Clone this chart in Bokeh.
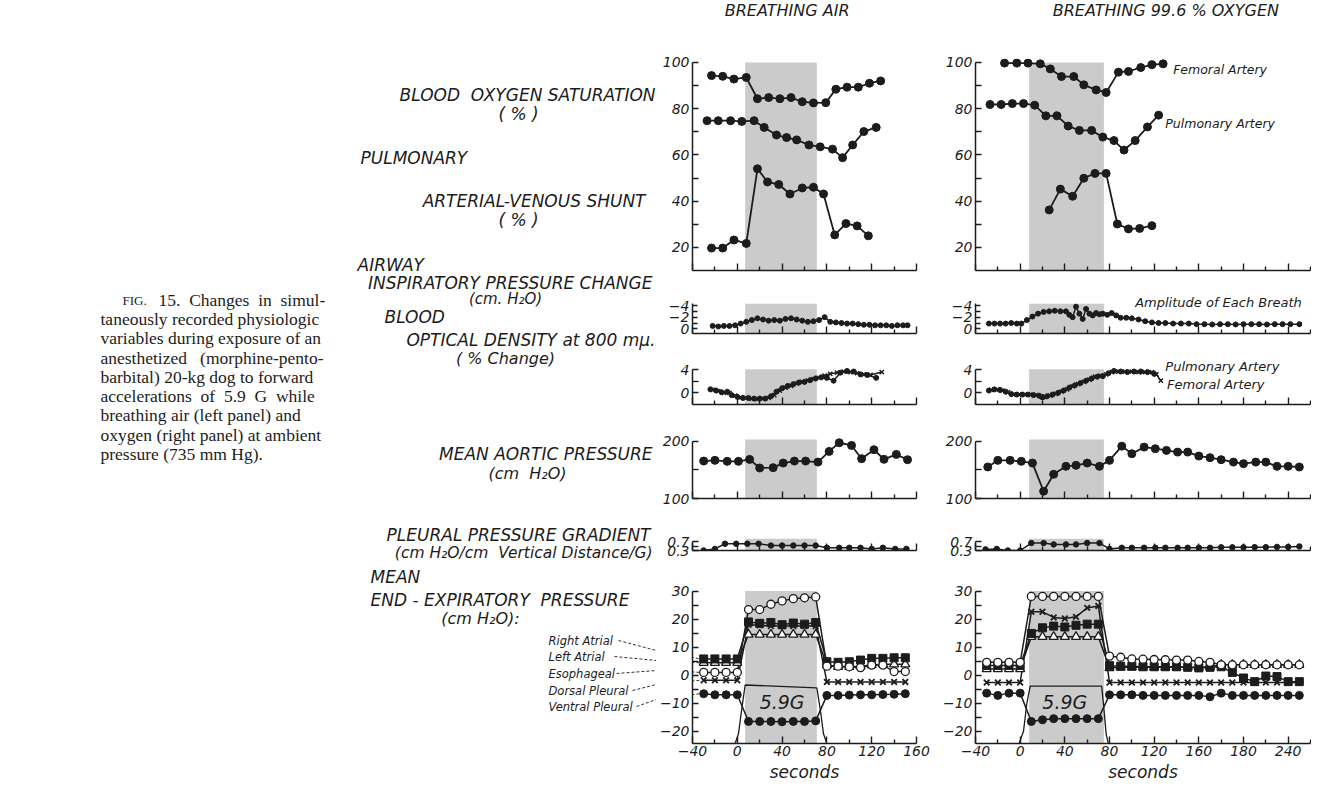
from bokeh.plotting import figure
from bokeh.layouts import row, column
from bokeh.models import Range1d, FixedTicker, Arrow
from bokeh.embed import file_html
from bokeh.resources import INLINE
from bokeh.core.properties import value

FONT = "DejaVu Sans"
SERIF = "Liberation Serif"
INK = "#1c1c1c"
BAND = "#cbcbcb"

# ======================= DATA =======================
air_x_major = [-40, 0, 40, 80, 120, 160]
air_x_minor = [-20, 20, 60, 100, 140]
oxy_x_major = [-40, 0, 40, 80, 120, 160, 200, 240]
oxy_x_minor = [-20, 20, 60, 100, 140, 180, 220, 260]
oxy_x_label_override = {200: "180"}

band_air = [7, 71]
band_oxy = [8, 75]

# Blood oxygen saturation (%)
sat_fem_air_t = [-23, -13, -3, 8, 18, 28, 38, 48, 58, 68, 79, 88, 98, 108, 118, 128]
sat_fem_air = [94.3, 94.0, 92.8, 93.5, 84.3, 84.8, 84.3, 84.8, 83.0, 82.5, 82.6, 88.4, 89.3, 89.3, 91.0, 92.0]
sat_pul_air_t = [-27, -17, -6, 4, 15, 24, 35, 44, 53, 64, 74, 85, 94, 103, 113, 124]
sat_pul_air = [74.8, 74.8, 74.8, 74.5, 74.8, 71.9, 68.6, 67.5, 66.5, 64.3, 63.5, 62.5, 58.8, 64.3, 70.1, 71.9]
sat_fem_oxy_t = [-14, -3, 7, 18, 27, 37, 48, 57, 68, 77, 88, 97, 108, 118, 128]
sat_fem_oxy = [99.7, 99.7, 99.7, 99.4, 97.2, 93.9, 93.9, 90.3, 88.1, 87.0, 95.8, 96.1, 97.8, 99.0, 99.4]
sat_pul_oxy_t = [-27, -17, -7, 3, 13, 23, 33, 43, 53, 64, 74, 84, 93, 103, 114, 124]
sat_pul_oxy = [81.8, 81.8, 82.2, 82.2, 81.5, 76.9, 76.9, 72.5, 70.6, 70.6, 67.7, 66.2, 62.1, 66.2, 72.1, 77.2]

# Pulmonary arterial-venous shunt (%)
shunt_air_t = [-23, -13, -3, 8, 18, 27, 37, 47, 58, 68, 77, 87, 97, 107, 117]
shunt_air = [19.7, 19.7, 23.2, 21.7, 54.0, 48.3, 47.2, 43.1, 45.7, 46.0, 43.1, 25.4, 30.3, 29.3, 25.0]
shunt_oxy_t = [26, 36, 47, 57, 67, 77, 87, 97, 107, 118]
shunt_oxy = [36.2, 45.2, 42.1, 49.9, 52.0, 52.0, 30.1, 28.0, 28.2, 29.4]

# Airway inspiratory pressure change (cm H2O)
airway_air_t = [-22, -17, -12, -7, -2, 3, 8, 13, 18, 23, 28, 33, 38, 43, 48, 53, 58, 63,
                68, 73, 78, 83, 88, 93, 98, 103, 108, 113, 118, 123, 128, 133, 138, 143, 148, 152]
airway_air = [-0.5, -0.4, -0.5, -0.5, -0.6, -0.9, -1.2, -1.5, -1.8, -1.6, -1.4, -1.5, -1.4, -1.7, -1.8, -1.6, -1.4, -1.2,
              -1.3, -1.5, -2.0, -1.2, -1.1, -1.0, -0.9, -0.9, -0.8, -0.7, -0.7, -0.6, -0.6, -0.6, -0.5, -0.6, -0.6, -0.6]
airway_oxy_t = [-28, -23, -18, -13, -8, -3, 1, 6, 11, 16, 21, 26, 31, 36, 41, 44, 47, 50, 53, 56, 59, 62, 65, 68,
                71, 74, 78, 82, 86, 90, 95, 100, 106, 112, 118, 124, 130, 137, 144, 151, 158, 165, 172, 179,
                186, 193, 200, 207, 214, 221, 228, 235, 242, 250]
airway_oxy = [-0.9, -0.9, -0.9, -0.9, -1.0, -0.9, -0.9, -1.5, -2.1, -2.6, -2.9, -3.0, -3.1, -3.0, -3.0, -2.4, -2.0,
              -3.8, -2.6, -1.7, -3.4, -2.6, -2.3, -2.7, -2.5, -2.6, -2.4, -2.7, -2.3, -1.9, -1.9, -1.8, -1.6, -1.3,
              -1.1, -1.0, -1.0, -0.9, -0.9, -0.9, -0.8, -0.8, -0.75, -0.8, -0.8, -0.75, -0.8, -0.8, -0.8, -0.75,
              -0.8, -0.8, -0.8, -0.8]

# Blood optical density at 800 mu (% change)
od_pul_air_t = [-24, -19, -14, -9, -5, 0, 5, 10, 15, 20, 25, 30, 35, 40, 45, 50, 55, 60, 65, 70, 75, 80, 86,
                92, 98, 104, 110, 116, 124]
od_pul_air = [0.6, 0.4, 0.1, 0.2, -0.4, -0.7, -0.9, -0.9, -1.0, -1.0, -1.0, -0.6, 0.2, 0.8, 1.2, 1.5, 1.8, 1.9,
              2.2, 2.5, 2.7, 2.6, 2.1, 3.5, 3.8, 3.7, 3.2, 3.1, 2.6]
od_fem_air_t = [-22, -17, -12, -7, -2, 3, 8, 13, 18, 23, 28, 33, 38, 43, 48, 53, 58, 63, 68, 73, 78, 83, 89,
                95, 101, 107, 113, 119, 129]
od_fem_air = [0.5, 0.3, 0.0, 0.0, -0.5, -0.8, -0.9, -1.0, -1.1, -1.0, -0.9, -0.4, 0.4, 0.9, 1.2, 1.6, 1.9, 2.1,
              2.4, 2.6, 3.0, 3.3, 3.5, 3.7, 3.6, 3.4, 3.2, 3.1, 3.6]
od_pul_oxy_t = [-28, -23, -18, -13, -8, -3, 2, 7, 12, 17, 20, 24, 29, 34, 39, 44, 49, 54, 59, 64, 69, 74, 79,
                84, 90, 96, 102, 108, 114, 120]
od_pul_oxy = [0.4, 0.6, 0.5, 0.2, -0.2, -0.3, -0.3, -0.3, -0.4, -0.5, -0.8, -0.6, -0.3, 0.0, 0.4, 0.9, 1.3, 1.7,
              2.1, 2.5, 2.8, 2.9, 3.4, 3.8, 3.7, 3.6, 3.7, 3.7, 3.6, 3.3]
od_fem_oxy_t = [-26, -21, -16, -11, -6, -1, 4, 9, 14, 19, 22, 27, 32, 37, 42, 47, 52, 57, 62, 67, 72, 77, 82,
                88, 94, 100, 106, 112, 118, 122, 126]
od_fem_oxy = [0.5, 0.5, 0.4, 0.1, -0.3, -0.3, -0.3, -0.3, -0.4, -0.6, -0.7, -0.5, -0.2, 0.2, 0.6, 1.1, 1.5, 1.9,
              2.3, 2.8, 3.0, 3.2, 3.6, 3.7, 3.7, 3.7, 3.6, 3.6, 3.6, 3.2, 2.1]

# Mean aortic pressure (cm H2O)
aortic_air_t = [-30, -20, -9, 1, 11, 20, 32, 41, 51, 61, 72, 82, 91, 102, 111, 122, 131, 142, 152]
aortic_air = [165.3, 166.5, 164.8, 164.8, 168.2, 153.2, 153.8, 161.8, 165.3, 165.3, 163.5, 182.1, 197.2, 192.5,
              169.4, 185.0, 168.3, 176.9, 167.6]
aortic_oxy_t = [-29, -20, -9, 1, 11, 21, 30, 41, 50, 60, 71, 80, 91, 100, 111, 121, 131, 141, 150, 160, 170,
                180, 191, 200, 211, 220, 230, 240, 250]
aortic_oxy = [155.0, 166.5, 166.5, 164.8, 161.8, 112.7, 142.2, 156.1, 157.8, 161.8, 156.1, 166.5, 191.3, 178.1,
              189.6, 186.8, 183.9, 180.9, 180.9, 174.0, 171.2, 167.7, 163.5, 160.8, 163.5, 163.5, 156.1, 156.1, 154.9]

# Pleural pressure gradient (cm H2O / cm vertical distance / G)
pleural_air_t = [-30, -20, -11, -1, 9, 19, 30, 40, 50, 60, 70, 80, 91, 100, 110, 120, 130, 141, 151]
pleural_air = [0.30, 0.37, 0.60, 0.60, 0.60, 0.60, 0.52, 0.52, 0.52, 0.52, 0.52, 0.42, 0.42, 0.42, 0.42, 0.37,
               0.42, 0.37, 0.37]
pleural_oxy_t = [-31, -21, -11, 0, 10, 21, 30, 41, 50, 60, 71, 80, 91, 100, 111, 121, 130, 141, 150, 160, 170,
                 180, 190, 200, 210, 220, 230, 240, 250]
pleural_oxy = [0.35, 0.37, 0.30, 0.30, 0.63, 0.63, 0.57, 0.57, 0.57, 0.63, 0.63, 0.37, 0.42, 0.42, 0.42, 0.42,
               0.42, 0.42, 0.42, 0.42, 0.42, 0.44, 0.44, 0.44, 0.45, 0.45, 0.46, 0.46, 0.48]

# Mean end-expiratory pressure (cm H2O)
eep_air_t = [-30, -20, -10, 0, 10, 20, 30, 40, 50, 60, 70, 80, 90, 100, 110, 120, 130, 140, 150]
eep_air_right_atrial = [5.8, 5.8, 5.8, 5.8, 19.0, 18.5, 18.8, 18.0, 18.6, 18.2, 18.8, 4.8, 4.6, 4.8, 5.4, 6.0,
                        6.0, 6.2, 6.2]
eep_air_left_atrial = [4.4, 4.4, 4.4, 4.4, 14.5, 14.5, 14.5, 14.5, 14.5, 14.5, 14.5, 3.6, 3.0, 3.0, 3.2, 3.6,
                       3.9, 3.9, 3.9]
eep_air_esophageal = [1.0, 1.0, 1.0, 1.0, 23.4, 23.4, 25.3, 26.5, 27.3, 27.6, 27.9, 3.2, 3.2, 3.0, 2.7, 3.6,
                      3.6, 1.3, 1.3]
eep_air_dorsal = [-1.8, -1.8, -1.8, -1.8, 18.0, 17.8, 17.5, 17.5, 17.5, 17.5, 17.5, -2.4, -2.4, -2.4, -2.4,
                  -2.4, -2.4, -2.4, -2.4]
eep_air_ventral = [-6.6, -7.0, -7.0, -7.0, -16.5, -16.5, -16.5, -16.6, -16.5, -16.5, -16.3, -7.2, -7.2, -7.1,
                   -7.0, -7.0, -6.9, -6.8, -6.6]
eep_oxy_t = [-30, -20, -10, 0, 10, 20, 30, 40, 50, 60, 70, 80, 90, 100, 110, 120, 130, 140, 150, 160, 170,
             180, 190, 200, 210, 220, 230, 240, 250]
eep_oxy_right_atrial = [3.5, 3.5, 3.5, 3.5, 14.9, 16.9, 17.5, 17.2, 17.8, 18.2, 18.2, 3.4, 3.2, 3.2, 3.0, 3.0,
                        3.0, 3.0, 2.8, 2.6, 2.8, 3.0, 1.0, -1.0, -2.3, -0.3, -0.5, -2.3, -2.3]
eep_oxy_left_atrial = [2.2, 2.2, 2.2, 2.2, 13.7, 13.7, 13.7, 13.7, 13.7, 13.7, 13.7, 2.6, 2.8, 2.8, 2.8, 2.8,
                       2.8, 2.8, 2.8, 2.8, 3.0, 3.7, 3.7, 3.7, 3.7, 3.7, 3.7, 3.7, 3.7]
eep_oxy_esophageal = [4.6, 4.6, 4.6, 4.6, 28.1, 28.1, 28.1, 28.1, 28.1, 28.1, 28.1, 6.8, 6.4, 5.8, 5.7, 5.6,
                      5.5, 5.4, 5.4, 4.9, 4.6, 3.7, 3.7, 3.7, 3.7, 3.7, 3.7, 3.7, 3.7]
eep_oxy_dorsal = [-2.6, -2.6, -2.6, -2.6, 22.6, 22.6, 20.6, 20.2, 20.8, 24.0, 24.7, -2.6, -2.6, -2.6, -2.6,
                  -2.6, -2.6, -2.6, -2.6, -2.6, -2.6, -2.6, -2.6, -2.6, -2.6, -2.6, -2.6, -2.6, -2.6]
eep_oxy_ventral = [-6.4, -7.2, -6.4, -6.4, -16.5, -15.9, -15.5, -15.5, -15.5, -15.5, -15.5, -7.0, -7.0, -7.0,
                   -7.2, -7.2, -7.2, -7.2, -7.2, -7.2, -7.7, -6.4, -7.2, -7.2, -7.2, -7.2, -7.2, -7.2, -7.2]

# acceleration (G) profile trace drawn in the bottom panels
g_air_t = [-2, 1, 4, 7, 71, 74, 77, 80]
g_air_level = [-24.4, -21, -12, -3.5, -4.5, -12, -21, -24.4]
g_oxy_t = [-1, 3, 6, 9, 73, 75, 77, 79]
g_oxy_level = [-24.4, -20, -10, -3.9, -3.9, -12, -21, -24.4]
g_label = "5.9G"

series_names = ["Right Atrial", "Left Atrial", "Esophageal", "Dorsal Pleural", "Ventral Pleural"]

# ======================= HELPERS =======================
TW, TH = 656, 784
SIDES = {
    "air": dict(w=275, bl=36, br=15, xr=(-40, 160), major=air_x_major, minor=air_x_minor,
                overrides={}, band=band_air, title="BREATHING AIR", tx=44.5),
    "oxy": dict(w=380, bl=44, br=1, xr=(-40, 260), major=oxy_x_major, minor=oxy_x_minor,
                overrides=oxy_x_label_override, band=band_oxy, title="BREATHING 99.6 % OXYGEN", tx=130.5),
}


def clean(p):
    p.outline_line_color = None
    p.xgrid.visible = False
    p.ygrid.visible = False
    p.background_fill_color = "white"
    p.border_fill_color = "white"


def base_fig(side, h, bt, bb, yr):
    s = SIDES[side]
    p = figure(width=s["w"], height=h, x_range=Range1d(*s["xr"]), y_range=Range1d(*yr),
               output_backend="svg", toolbar_location=None,
               min_border_left=s["bl"], min_border_right=s["br"],
               min_border_top=bt, min_border_bottom=bb)
    clean(p)
    return p


def style_axis(ax, major, minor, bounds, tin, min_in, labels=True, overrides=None, size="14px"):
    ax.ticker = FixedTicker(ticks=major, minor_ticks=minor)
    ax.bounds = bounds
    ax.axis_line_color = INK
    ax.axis_line_width = 1.5
    ax.major_tick_line_color = INK
    ax.major_tick_line_width = 1.4
    ax.minor_tick_line_color = INK
    ax.minor_tick_line_width = 1.4
    ax.major_tick_in = tin
    ax.major_tick_out = 0
    ax.minor_tick_in = min_in
    ax.minor_tick_out = 0
    ax.major_label_text_font = FONT
    ax.major_label_text_font_style = "italic"
    ax.major_label_text_font_size = size
    ax.major_label_text_color = INK
    if labels:
        ax.major_label_standoff = 3
        if overrides:
            ax.major_label_overrides = overrides
    else:
        ax.major_label_standoff = 0
        ax.major_label_overrides = {t: "" for t in major}


def style_x(p, side, labels=False):
    s = SIDES[side]
    style_axis(p.xaxis[0], s["major"], s["minor"], s["xr"], 7, 4, labels=labels, overrides=s["overrides"])


def band(p, side, bottom, top):
    b = SIDES[side]["band"]
    p.quad(left=[b[0]], right=[b[1]], bottom=[bottom], top=[top], fill_color=BAND, line_color=None)


def series(p, t, v, marker="circle", size=8, fill=INK, lw=1.8, mlw=1.0):
    p.line(t, v, line_color=INK, line_width=lw)
    p.scatter(t, v, marker=marker, size=size, fill_color=fill, line_color=INK, line_width=mlw)


def note(p, x, y, txt, size="12.5px", align="left"):
    p.text(x=[x], y=[y], text=[txt], text_font=value(FONT), text_font_style="italic",
           text_font_size=size, text_color=INK, text_align=align, text_baseline="middle")


EEP_YR = (-24.36, 38.76)


def build_column(side, d):
    figs = []
    s = SIDES[side]
    # --- column header (frame is aligned with the panels below, so x is in seconds)
    h = figure(width=s["w"], height=24, x_range=Range1d(*s["xr"]), y_range=Range1d(24, 0),
               output_backend="svg", toolbar_location=None,
               min_border_left=s["bl"], min_border_right=s["br"], min_border_top=0, min_border_bottom=0,
               x_axis_location=None, y_axis_location=None)
    clean(h)
    h.text(x=[s["tx"]], y=[10], text=[s["title"]], text_font=value(FONT), text_font_style="italic",
           text_font_size="16px", text_color=INK, text_align="center", text_baseline="middle")
    figs.append(h)
    # --- saturation + shunt (both in %)
    p = base_fig(side, 256, 34, 10, (10, 101.7))
    band(p, side, 0, 100)
    series(p, d["sat_fem_t"], d["sat_fem"])
    series(p, d["sat_pul_t"], d["sat_pul"])
    series(p, d["shunt_t"], d["shunt"])
    style_axis(p.yaxis[0], [20, 40, 60, 80, 100], [30, 50, 70, 90], (10, 100), 6, 6)
    style_x(p, side)
    if side == "oxy":
        note(p, 137, 97.0, "Femoral Artery")
        note(p, 130, 73.8, "Pulmonary Artery")
    figs.append(p)
    # --- airway
    p = base_fig(side, 63, 5, 10, (0.8, -7.43))
    band(p, side, 0.8, -4.3)
    series(p, d["airway_t"], d["airway"], size=5, lw=1.5)
    style_axis(p.yaxis[0], [-4, -2, 0], [-3, -1], (-4.3, 0.8), 5, 5)
    style_x(p, side)
    if side == "oxy":
        note(p, 103, -4.6, "Amplitude of Each Breath", size="13px")
    figs.append(p)
    # --- optical density
    p = base_fig(side, 71, 5, 10, (-2.03, 7.7))
    band(p, side, -2.03, 4.1)
    p.line(d["od_fem_t"], d["od_fem"], line_color=INK, line_width=1.5)
    p.line(d["od_pul_t"], d["od_pul"], line_color=INK, line_width=1.5)
    p.scatter(d["od_pul_t"], d["od_pul"], marker="circle", size=5, fill_color=INK, line_color=INK)
    p.scatter(d["od_fem_t"], d["od_fem"], marker="x", size=6, line_color=INK, line_width=1.4)
    style_axis(p.yaxis[0], [0, 4], [2], (-2.03, 4), 6, 6)
    style_x(p, side)
    if side == "oxy":
        note(p, 130, 4.6, "Pulmonary Artery", size="13px")
        note(p, 131.5, 1.4, "Femoral Artery", size="13px")
    figs.append(p)
    # --- aortic pressure
    p = base_fig(side, 94, 6, 10, (100, 236))
    band(p, side, 100, 203)
    series(p, d["aortic_t"], d["aortic"])
    style_axis(p.yaxis[0], [100, 200], [150], (100, 200), 6, 6)
    style_x(p, side)
    figs.append(p)
    # --- pleural gradient
    p = base_fig(side, 52, 6, 10, (0.3, 1.9))
    band(p, side, 0.3, 0.82)
    series(p, d["pleural_t"], d["pleural"], size=5.5, lw=1.5)
    style_axis(p.yaxis[0], [0.3, 0.7], [0.5], (0.3, 0.7), 6, 6)
    style_x(p, side)
    figs.append(p)
    # --- end-expiratory pressure
    p = base_fig(side, 224, 6, 40, EEP_YR)
    band(p, side, EEP_YR[0], 30)
    p.line(d["g_t"], d["g_level"], line_color=INK, line_width=1.3)
    note(p, 40, -9.6, g_label, size="19px", align="center")
    t = d["eep_t"]
    for key in ["eep_dorsal", "eep_left_atrial", "eep_right_atrial", "eep_esophageal", "eep_ventral"]:
        p.line(t, d[key], line_color=INK, line_width=1.5)
    p.scatter(t, d["eep_left_atrial"], marker="triangle", size=9, fill_color="white", line_color=INK, line_width=1.3)
    p.scatter(t, d["eep_right_atrial"], marker="square", size=8, fill_color=INK, line_color=INK)
    p.scatter(t, d["eep_esophageal"], marker="circle", size=8, fill_color="white", line_color=INK, line_width=1.3)
    p.scatter(t, d["eep_dorsal"], marker="x", size=8, line_color=INK, line_width=1.8)
    p.scatter(t, d["eep_ventral"], marker="circle", size=8, fill_color=INK, line_color=INK)
    style_axis(p.yaxis[0], [-20, -10, 0, 10, 20, 30], [-15, -5, 5, 15, 25], (EEP_YR[0], 30), 6, 6)
    style_x(p, side, labels=True)
    ax = p.xaxis[0]
    ax.axis_label = "seconds"
    ax.axis_label_text_font = FONT
    ax.axis_label_text_font_style = "italic"
    ax.axis_label_text_font_size = "17px"
    ax.axis_label_text_color = INK
    ax.axis_label_standoff = 3
    ax.major_label_standoff = 2
    figs.append(p)
    return figs


air = dict(sat_fem_t=sat_fem_air_t, sat_fem=sat_fem_air, sat_pul_t=sat_pul_air_t, sat_pul=sat_pul_air,
           shunt_t=shunt_air_t, shunt=shunt_air, airway_t=airway_air_t, airway=airway_air,
           od_pul_t=od_pul_air_t, od_pul=od_pul_air, od_fem_t=od_fem_air_t, od_fem=od_fem_air,
           aortic_t=aortic_air_t, aortic=aortic_air, pleural_t=pleural_air_t, pleural=pleural_air,
           eep_t=eep_air_t, eep_right_atrial=eep_air_right_atrial, eep_left_atrial=eep_air_left_atrial,
           eep_esophageal=eep_air_esophageal, eep_dorsal=eep_air_dorsal, eep_ventral=eep_air_ventral,
           g_t=g_air_t, g_level=g_air_level)
oxy = dict(sat_fem_t=sat_fem_oxy_t, sat_fem=sat_fem_oxy, sat_pul_t=sat_pul_oxy_t, sat_pul=sat_pul_oxy,
           shunt_t=shunt_oxy_t, shunt=shunt_oxy, airway_t=airway_oxy_t, airway=airway_oxy,
           od_pul_t=od_pul_oxy_t, od_pul=od_pul_oxy, od_fem_t=od_fem_oxy_t, od_fem=od_fem_oxy,
           aortic_t=aortic_oxy_t, aortic=aortic_oxy, pleural_t=pleural_oxy_t, pleural=pleural_oxy,
           eep_t=eep_oxy_t, eep_right_atrial=eep_oxy_right_atrial, eep_left_atrial=eep_oxy_left_atrial,
           eep_esophageal=eep_oxy_esophageal, eep_dorsal=eep_oxy_dorsal, eep_ventral=eep_oxy_ventral,
           g_t=g_oxy_t, g_level=g_oxy_level)

left_figs = build_column("air", air)
right_figs = build_column("oxy", oxy)

# ======================= TEXT AREA =======================
tf = figure(width=TW, height=TH, x_range=Range1d(0, TW), y_range=Range1d(TH, 0),
            output_backend="svg", toolbar_location=None, min_border=0,
            x_axis_location=None, y_axis_location=None)
clean(tf)


def ttext(txt, px, py, align="left", size="17px", font=FONT, style="italic"):
    tf.text(x=[px], y=[py], text=[txt], text_font=value(font), text_font_style=style,
            text_font_size=size, text_color=INK, text_align=align, text_baseline="middle")


NB = "\u00a0"
caption = [
    ("15." + NB + " Changes" + NB + " in" + NB + " simul-", 158, 299),
    ("taneously recorded physiologic", 100, 318),
    ("variables during exposure of an", 100, 337),
    ("anesthetized" + NB * 2 + " (morphine-pento-", 100, 357),
    ("barbital) 20-kg dog to forward", 100, 376),
    ("accelerations" + NB + " of" + NB + " 5.9" + NB + " G" + NB + " while", 100, 395),
    ("breathing air (left panel) and", 100, 414),
    ("oxygen (right panel) at ambient", 100, 434),
    ("pressure (735 mm Hg).", 100, 453),
]
ttext("FIG.", 122, 300, size="13px", font=SERIF, style="normal")
for txt, px, py in caption:
    ttext(txt, px, py, size="17.5px", font=SERIF, style="normal")

labels = [
    ("BLOOD" + NB + " OXYGEN SATURATION", 655, 94, "right", "17px"),
    ("( % )", 518, 113, "center", "17px"),
    ("PULMONARY", 360, 157, "left", "17px"),
    ("ARTERIAL-VENOUS SHUNT", 645, 200, "right", "17px"),
    ("( % )", 518, 219, "center", "17px"),
    ("AIRWAY", 357, 264, "left", "17px"),
    ("INSPIRATORY PRESSURE CHANGE", 652, 282, "right", "17px"),
    ("(cm. H\u2082O)", 505, 298, "center", "15px"),
    ("BLOOD", 384, 316, "left", "17px"),
    ("OPTICAL DENSITY at 800 m\u03bc.", 655, 339, "right", "17px"),
    ("( % Change)", 505, 358, "center", "16px"),
    ("MEAN AORTIC PRESSURE", 652, 453, "right", "17px"),
    ("(cm" + NB + " H\u2082O)", 527, 473, "center", "16px"),
    ("PLEURAL PRESSURE GRADIENT", 650, 534, "right", "17px"),
    ("(cm H\u2082O/cm" + NB + " Vertical Distance/G)", 652, 552, "right", "15.5px"),
    ("MEAN", 370, 576, "left", "17px"),
    ("END - EXPIRATORY" + NB + " PRESSURE", 370, 599, "left", "17px"),
    ("(cm H\u2082O):", 480, 618, "center", "16px"),
]
for txt, px, py, al, sz in labels:
    ttext(txt, px, py, align=al, size=sz)

# leader labels for the end-expiratory curves (left panel)
leader_label_y = [640, 656, 673, 690, 706]
leader_text_end = [618, 614, 616, 632, 636]
leader_edge_y = [650, 660, 670, 684, 699]
for name, ly, lx, ey in zip(series_names, leader_label_y, leader_text_end, leader_edge_y):
    ttext(name, 548, ly, size="11.5px")
    tf.segment(x0=[lx], y0=[ly], x1=[TW], y1=[ey], line_color=INK, line_width=0.9, line_dash="3 2")

# continue leaders inside the bottom-left panel
eep_first = [eep_air_right_atrial[0], eep_air_left_atrial[0], eep_air_esophageal[0],
             eep_air_dorsal[0], eep_air_ventral[0]]
p_eep = left_figs[-1]
x_edge = -40 - 36 / 1.12
for ey, v0 in zip(leader_edge_y, eep_first):
    v_edge = 30 - (ey - 590.7) / 2.82
    p_eep.add_layout(Arrow(end=None, x_start=x_edge, y_start=v_edge, x_end=eep_air_t[0] - 3, y_end=v0,
                           line_color=INK, line_width=0.9, line_dash="3 2"))

layout = row(tf, column(*left_figs), column(*right_figs))
open("out.html", "w").write(file_html(layout, INLINE))
